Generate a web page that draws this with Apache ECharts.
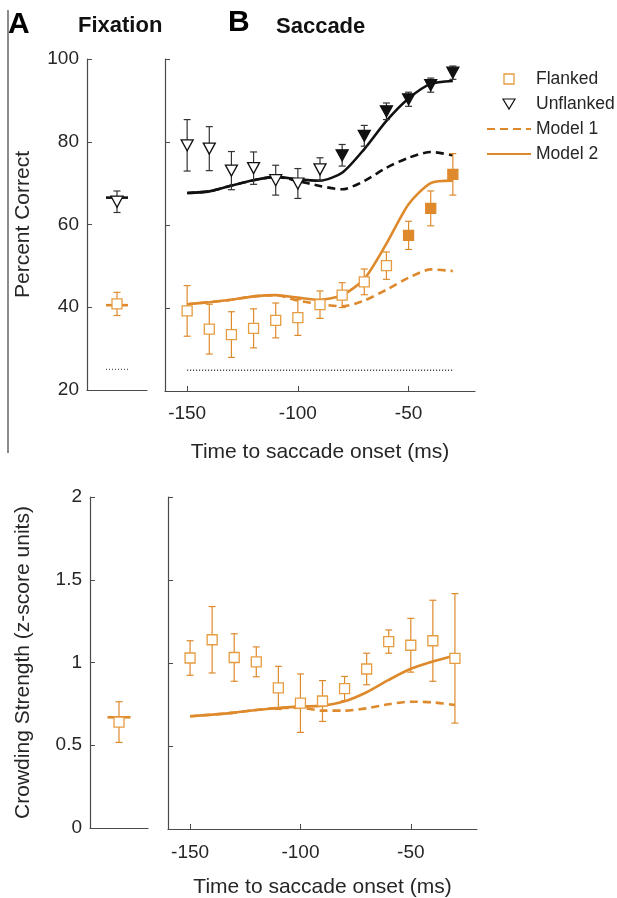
<!DOCTYPE html>
<html>
<head>
<meta charset="utf-8">
<script src="https://cdn.jsdelivr.net/npm/echarts@6/dist/echarts.min.js"></script>
<style>
  html, body { margin: 0; padding: 0; background: #fff; }
  #chart { width: 617px; height: 898px; }
</style>
</head>
<body>
<div id="chart"></div>
<script>
// Time bins (ms relative to saccade onset)
const times = [-150, -140, -130, -120, -110, -100, -90, -80, -70, -60, -50, -40, -30];
const xTicks = [-150, -100, -50];

// Percent correct, saccade condition
const unflankedPct = [79.2, 78.4, 73.1, 73.7, 70.8, 70.0, 73.4, 76.8, 81.5, 87.4, 90.3, 93.7, 96.7];
const unflankedErr = [6.2, 5.3, 4.6, 3.9, 3.6, 3.6, 2.8, 2.6, 2.5, 2.0, 1.7, 1.7, 1.6];
const unflankedFilled = [false, false, false, false, false, false, false, true, true, true, true, true, true];
const flankedPct = [39.3, 34.9, 33.6, 35.1, 37.0, 37.7, 40.8, 43.1, 46.3, 50.2, 57.5, 64.0, 72.2];
const flankedErr = [6.1, 6.0, 5.5, 4.7, 4.2, 4.3, 3.3, 3.0, 3.1, 3.3, 3.4, 4.2, 5.0];
const flankedFilled = [false, false, false, false, false, false, false, false, false, false, true, true, true];

// Model predictions, percent correct
const model1Unflanked = [67.7, 68.1, 69.5, 70.8, 71.6, 70.6, 69.4, 68.6, 70.6, 73.8, 76.2, 77.6, 76.8];
const model2Unflanked = [67.7, 68.1, 69.5, 70.8, 71.6, 71.0, 70.7, 72.6, 78.3, 85.1, 90.5, 94.0, 94.7];
const model1Flanked = [40.9, 41.4, 42.0, 42.8, 43.1, 41.8, 40.9, 40.4, 41.8, 44.4, 47.3, 49.3, 48.9];
const model2Flanked = [40.9, 41.4, 42.0, 42.8, 43.1, 42.5, 42.0, 43.1, 47.0, 55.5, 65.0, 70.1, 70.7];
const chancePct = 25;

// Fixation condition (single values)
const fixUnflanked = { value: 65.5, err: 2.6, model: 66.5 };
const fixFlanked = { value: 40.8, err: 2.8, model: 40.5 };
const fixCrowding = { value: 0.64, err: 0.123, model: 0.669 };

// Crowding strength (z-score units), saccade condition
const crowding = [1.030, 1.140, 1.033, 1.007, 0.850, 0.758, 0.771, 0.846, 0.964, 1.129, 1.107, 1.134, 1.028];
const crowdingErr = [0.104, 0.200, 0.143, 0.090, 0.130, 0.176, 0.123, 0.073, 0.095, 0.070, 0.162, 0.244, 0.390];
const model1Crowding = [0.679, 0.689, 0.701, 0.717, 0.729, 0.730, 0.713, 0.713, 0.727, 0.752, 0.767, 0.763, 0.747];
const model2Crowding = [0.679, 0.689, 0.701, 0.717, 0.729, 0.737, 0.743, 0.769, 0.824, 0.898, 0.965, 1.009, 1.045];

const FONT = '"Liberation Sans", Arial, Helvetica, sans-serif';
const TXT = '#262626';
const AXIS = '#4a4a4a';
const ORANGE = '#DE8A2C';
const ORANGE_OPEN = '#E69C40';
const BLACK = '#111111';
const DASH = [8, 5];
const SQUARE = 10;
const TRIANGLE = [12, 11];

const pairs = (xs, ys) => xs.map((x, i) => [x, ys[i]]);
const pick = (xs, ys, mask, want) => xs.map((x, i) => [x, ys[i]]).filter((_, i) => mask[i] === want);

// Vertical error bars with caps
function errorBars(gi, color, data) {
  return {
    type: 'custom', xAxisIndex: gi, yAxisIndex: gi, silent: true, z: 3,
    data: data,
    encode: { x: 0, y: 1 },
    renderItem: function (params, api) {
      const x = api.value(0), y = api.value(1), e = api.value(2);
      const p1 = api.coord([x, y + e]);
      const p2 = api.coord([x, y - e]);
      const cap = 3.5;
      const st = { stroke: color, lineWidth: 1.2 };
      return {
        type: 'group',
        children: [
          { type: 'line', shape: { x1: p1[0], y1: p1[1], x2: p2[0], y2: p2[1] }, style: st },
          { type: 'line', shape: { x1: p1[0] - cap, y1: p1[1], x2: p1[0] + cap, y2: p1[1] }, style: st },
          { type: 'line', shape: { x1: p2[0] - cap, y1: p2[1], x2: p2[0] + cap, y2: p2[1] }, style: st }
        ]
      };
    }
  };
}

// Short horizontal segment centred on a fixation data point
function fixSegment(gi, color, value, halfWidth, width, type) {
  return {
    type: 'custom', xAxisIndex: gi, yAxisIndex: gi, silent: true, z: 4,
    data: [[0.5, value]],
    encode: { x: 0, y: 1 },
    renderItem: function (params, api) {
      const p = api.coord([api.value(0), api.value(1)]);
      return {
        type: 'line',
        shape: { x1: p[0] - halfWidth, y1: p[1], x2: p[0] + halfWidth, y2: p[1] },
        style: { stroke: color, lineWidth: width, lineDash: type }
      };
    }
  };
}

function lineSeries(name, gi, data, color, dashed, z) {
  return {
    name: name, type: 'line', xAxisIndex: gi, yAxisIndex: gi,
    data: data, symbol: 'none', smooth: 0.25, silent: true, z: z || 2,
    lineStyle: { color: color, width: 2.6, type: dashed ? DASH : 'solid', cap: 'butt' },
    itemStyle: { color: color }
  };
}

function markers(name, gi, data, shape, size, rotate, fill, stroke) {
  return {
    name: name, type: 'scatter', xAxisIndex: gi, yAxisIndex: gi,
    data: data, symbol: shape, symbolSize: size, symbolRotate: rotate, silent: true, z: 5,
    itemStyle: { color: fill, borderColor: stroke, borderWidth: 1.3, opacity: 1 }
  };
}

const tickStyle = { show: true, inside: true, length: 5, lineStyle: { color: AXIS, width: 1 } };
const lineStyleAxis = { show: true, onZero: false, lineStyle: { color: AXIS, width: 1.2 } };

function yAxisCfg(gi, min, max, interval, showLabels, name, nameGap) {
  return {
    gridIndex: gi, type: 'value', min: min, max: max, interval: interval,
    axisLine: lineStyleAxis, axisTick: tickStyle, splitLine: { show: false },
    axisLabel: { show: showLabels, color: TXT, fontSize: 19, margin: 8, fontFamily: FONT },
    name: name, nameLocation: 'middle', nameGap: nameGap,
    nameTextStyle: { color: TXT, fontSize: 21, fontFamily: FONT }
  };
}

function xFixCfg(gi) {
  return {
    gridIndex: gi, type: 'value', min: 0, max: 1,
    axisLine: lineStyleAxis, axisTick: { show: false }, axisLabel: { show: false }, splitLine: { show: false }
  };
}

function xSacCfg(gi, labelMargin, nameGap) {
  return {
    gridIndex: gi, type: 'value', min: -160, max: -20,
    axisLine: lineStyleAxis,
    axisTick: Object.assign({}, tickStyle, { customValues: xTicks }),
    axisLabel: { color: TXT, fontSize: 19, margin: labelMargin, fontFamily: FONT, customValues: xTicks },
    splitLine: { show: false },
    name: 'Time to saccade onset (ms)', nameLocation: 'middle', nameGap: nameGap,
    nameTextStyle: { color: TXT, fontSize: 21, fontFamily: FONT }
  };
}

const series = [
  // Top, fixation
  fixSegment(0, '#555', chancePct, 11, 1.2, [1, 2]),
  errorBars(0, '#333', [[0.5, fixUnflanked.value, fixUnflanked.err]]),
  errorBars(0, ORANGE, [[0.5, fixFlanked.value, fixFlanked.err]]),
  markers('Unflanked (fixation)', 0, [[0.5, fixUnflanked.value]], 'triangle', TRIANGLE, 180, '#fff', BLACK),
  markers('Flanked (fixation)', 0, [[0.5, fixFlanked.value]], 'rect', SQUARE, 0, '#fff', ORANGE_OPEN),
  fixSegment(0, BLACK, fixUnflanked.model, 11, 2.6),
  fixSegment(0, ORANGE, fixFlanked.model, 11, 2.6),

  // Top, saccade
  {
    name: 'Chance', type: 'line', xAxisIndex: 1, yAxisIndex: 1, symbol: 'none', silent: true,
    data: [[times[0], chancePct], [times[times.length - 1], chancePct]],
    lineStyle: { color: '#333', width: 1.3, type: [1, 2] }
  },
  lineSeries('Model 1 (unflanked)', 1, pairs(times, model1Unflanked), BLACK, true),
  lineSeries('Model 2 (unflanked)', 1, pairs(times, model2Unflanked), BLACK, false),
  lineSeries('Model 1', 1, pairs(times, model1Flanked), ORANGE, true),
  lineSeries('Model 2', 1, pairs(times, model2Flanked), ORANGE, false),
  errorBars(1, '#333', times.map((t, i) => [t, unflankedPct[i], unflankedErr[i]])),
  errorBars(1, ORANGE, times.map((t, i) => [t, flankedPct[i], flankedErr[i]])),
  markers('Unflanked', 1, pick(times, unflankedPct, unflankedFilled, false), 'triangle', TRIANGLE, 180, '#fff', BLACK),
  markers('Unflanked (filled)', 1, pick(times, unflankedPct, unflankedFilled, true), 'triangle', TRIANGLE, 180, BLACK, BLACK),
  markers('Flanked', 1, pick(times, flankedPct, flankedFilled, false), 'rect', SQUARE, 0, '#fff', ORANGE_OPEN),
  markers('Flanked (filled)', 1, pick(times, flankedPct, flankedFilled, true), 'rect', SQUARE, 0, ORANGE, ORANGE),

  // Bottom, fixation
  errorBars(2, ORANGE, [[0.5, fixCrowding.value, fixCrowding.err]]),
  markers('Crowding (fixation)', 2, [[0.5, fixCrowding.value]], 'rect', SQUARE, 0, '#fff', ORANGE_OPEN),
  fixSegment(2, ORANGE, fixCrowding.model, 11.5, 2.6),

  // Bottom, saccade
  lineSeries('Model 1 (crowding)', 3, pairs(times, model1Crowding), ORANGE, true),
  lineSeries('Model 2 (crowding)', 3, pairs(times, model2Crowding), ORANGE, false),
  errorBars(3, ORANGE, times.map((t, i) => [t, crowding[i], crowdingErr[i]])),
  markers('Crowding', 3, pairs(times, crowding), 'rect', SQUARE, 0, '#fff', ORANGE_OPEN)
];

const option = {
  animation: false,
  backgroundColor: '#fff',
  textStyle: { fontFamily: FONT },
  grid: [
    { left: 87, top: 59, width: 60, height: 331, containLabel: false, outerBoundsMode: 'none' },
    { left: 165, top: 59, width: 310, height: 332, containLabel: false, outerBoundsMode: 'none' },
    { left: 90, top: 497, width: 58, height: 331, containLabel: false, outerBoundsMode: 'none' },
    { left: 168, top: 497, width: 309, height: 332, containLabel: false, outerBoundsMode: 'none' }
  ],
  xAxis: [xFixCfg(0), xSacCfg(1, 13, 51), xFixCfg(2), xSacCfg(3, 14, 48)],
  yAxis: [
    yAxisCfg(0, 20, 100, 20, true, 'Percent Correct', 53),
    yAxisCfg(1, 20, 100, 20, false, '', 0),
    yAxisCfg(2, 0, 2, 0.5, true, 'Crowding Strength (z-score units)', 56),
    yAxisCfg(3, 0, 2, 0.5, false, '', 0)
  ],
  legend: {
    orient: 'vertical', left: 481, top: 64,
    itemWidth: 44, itemHeight: 10, itemGap: 5,
    selectedMode: false,
    textStyle: { color: TXT, fontSize: 17.5, lineHeight: 20, fontFamily: FONT },
    data: [
      { name: 'Flanked', icon: 'path://M0,0L10,0L10,10L0,10Z',
        itemStyle: { color: '#fff', borderColor: ORANGE_OPEN, borderWidth: 1.3 } },
      { name: 'Unflanked', icon: 'path://M0,0L12,0L6,10Z',
        itemStyle: { color: '#fff', borderColor: BLACK, borderWidth: 1.2 } },
      { name: 'Model 1', itemStyle: { opacity: 0 } },
      { name: 'Model 2', itemStyle: { opacity: 0 } }
    ]
  },
  graphic: [
    { type: 'line', silent: true, shape: { x1: 8, y1: 10, x2: 8, y2: 453 },
      style: { stroke: '#666', lineWidth: 1.5 } },
    { type: 'text', left: 8, top: 10, style: { text: 'A', font: 'bold 30px ' + FONT, fill: '#000' } },
    { type: 'text', left: 78, top: 15, style: { text: 'Fixation', font: 'bold 22px ' + FONT, fill: '#111' } },
    { type: 'text', left: 228, top: 8, style: { text: 'B', font: 'bold 30px ' + FONT, fill: '#000' } },
    { type: 'text', left: 276, top: 16, style: { text: 'Saccade', font: 'bold 22px ' + FONT, fill: '#111' } }
  ],
  series: series
};

const chart = echarts.init(document.getElementById('chart'), null, { renderer: 'canvas' });
chart.setOption(option);
</script>
</body>
</html>
